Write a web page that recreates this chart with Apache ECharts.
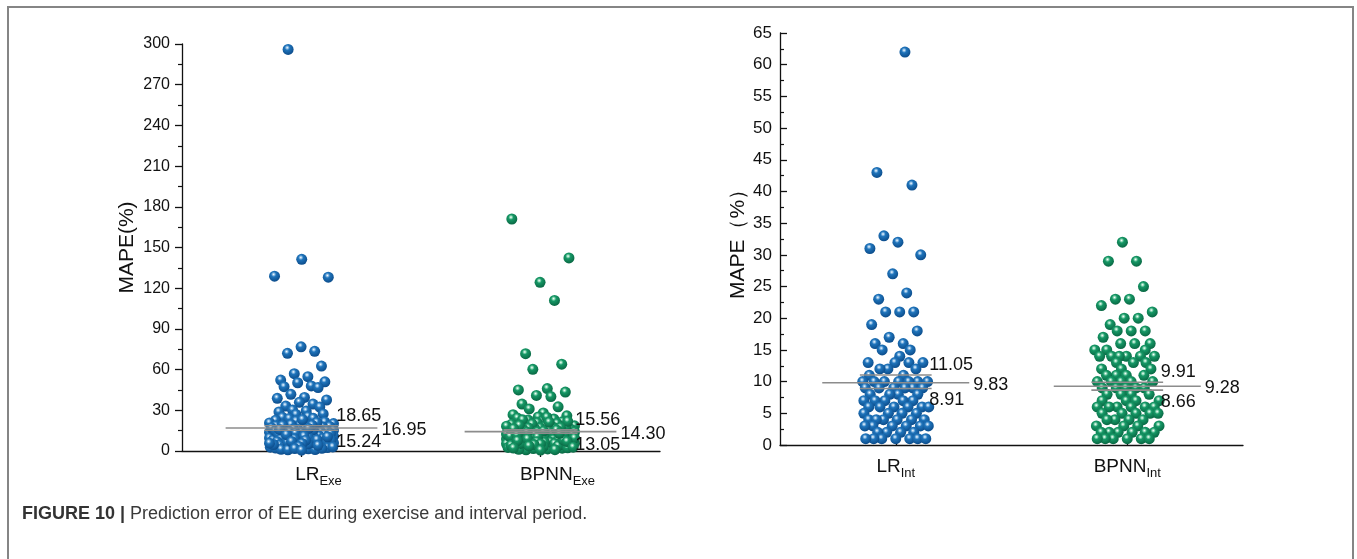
<!DOCTYPE html>
<html>
<head>
<meta charset="utf-8">
<script src="https://cdn.jsdelivr.net/npm/echarts@6/dist/echarts.min.js"></script>
<style>
  html, body { margin: 0; padding: 0; background: #ffffff; }
  #chart { width: 1357px; height: 559px; }
</style>
</head>
<body>
<div id="chart"></div>
<script>
// ---- Exercise period: MAPE (%) per sample ----
const exeNames = ['LR', 'BPNN'];
const exeSub = 'Exe';
const lrExe = [
  296.0, 141.3, 128.9, 128.1, 76.8, 73.5, 72.0, 62.6, 57.0, 54.8, 52.3, 51.0, 50.3, 48.0, 47.4, 46.8,
  41.8, 39.5, 38.8, 37.6, 35.9, 34.6, 33.1, 32.4, 30.2, 29.5, 28.8, 27.3, 26.9, 25.4, 24.8, 24.1, 23.9,
  22.6, 22.1, 21.4, 20.7, 20.2, 19.8, 19.3, 18.5, 18.1, 17.7, 17.2, 16.9, 16.4, 15.8, 15.3, 15.0, 14.6,
  14.1, 13.8, 13.5, 13.0, 12.6, 12.2, 11.9, 11.4, 11.1, 10.8, 10.3, 9.9, 9.6, 9.2, 8.8, 8.5, 8.0, 7.6,
  7.1, 6.7, 6.3, 5.9, 5.4, 5.0, 4.6, 4.1, 3.7, 3.2, 2.8, 2.2, 1.6, 1.1,
  23.2, 21.0, 19.5, 18.8, 17.0, 16.2, 15.5, 14.9, 14.3, 13.6, 12.9, 12.3, 11.6, 10.9, 10.1, 9.4, 8.7,
  8.1, 7.4, 6.9, 6.0, 5.2, 4.4, 3.5, 2.5, 1.3,
  19.0, 16.6, 13.2, 11.0, 9.0, 7.8, 6.5, 5.6, 4.8, 3.0, 2.0, 0.9,
  15.9, 12.0, 10.5, 8.3, 7.0, 5.8, 4.2, 3.4, 1.8, 0.6
];
const bpnnExe = [
  171.0, 142.3, 124.3, 111.0, 71.7, 64.0, 60.2, 46.0, 45.0, 43.4, 41.0, 40.1, 34.6, 32.6, 31.0, 28.0,
  26.8, 25.9, 25.1, 24.3, 23.6, 22.8, 22.1, 21.5, 20.9, 20.3, 19.7, 19.2, 18.6, 18.0, 17.5, 17.1, 16.6,
  16.2, 15.7, 15.3, 14.9, 14.4, 14.0, 13.6, 13.1, 12.7, 12.3, 11.8, 11.4, 11.0, 10.6, 10.1, 9.7, 9.3,
  8.8, 8.4, 8.0, 7.5, 7.1, 6.7, 6.2, 5.8, 5.3, 4.9, 4.4, 4.0, 3.5, 3.0, 2.6, 2.1, 1.5, 0.9,
  24.9, 23.0, 21.2, 19.9, 18.3, 17.8, 16.9, 15.9, 15.0, 14.2, 13.4, 12.9, 12.0, 11.2, 10.4, 9.9, 9.0,
  8.6, 7.8, 7.3, 6.5, 6.0, 5.5, 5.0, 4.6, 3.8, 3.2, 2.4, 1.8, 1.2,
  21.9, 18.9, 16.4, 14.6, 13.8, 12.5, 11.6, 10.8, 9.5, 8.2, 7.0, 6.4, 5.6, 4.2, 3.4, 2.8, 1.0,
  17.3, 15.5, 13.0, 11.7, 10.2, 8.9, 7.6, 6.9, 5.2, 4.7, 3.7, 2.2, 0.7
];
const exeMean = [16.95, 14.30];
const exeUpper = [18.65, 15.56];
const exeLower = [15.24, 13.05];
const exeAxis = { min: 0, max: 300, step: 30 };

// ---- Interval period: MAPE (%) per sample ----
const intNames = ['LR', 'BPNN'];
const intSub = 'Int';
const lrInt = [
  62, 43, 41, 33, 32, 31, 30, 27, 24, 23, 21, 21, 21, 19, 18, 17, 16, 16, 15, 15, 14, 13, 13, 13, 13,
  12, 12, 12, 11, 11, 10, 10, 10, 10, 10, 10, 10, 9, 9, 9, 9, 9, 9, 8, 8, 8, 8, 7, 7, 7, 7, 7,
  6, 6, 6, 6, 6, 6, 5, 5, 5, 5, 4, 4, 4, 4, 4, 4, 3, 3, 3, 3, 3, 3, 2, 2, 2, 2, 1, 1, 1, 1, 1, 1, 1
];
const bpnnInt = [
  32, 29, 29, 25, 23, 23, 22, 21, 20, 20, 19, 18, 18, 18, 17, 16, 16, 16, 15, 15, 15,
  14, 14, 14, 14, 14, 14, 13, 13, 13, 12, 12, 12, 11, 11, 11, 11, 10, 10, 10, 10, 10,
  9, 9, 9, 9, 9, 8, 8, 8, 8, 7, 7, 7, 7, 6, 6, 6, 6, 6, 6, 5, 5, 5, 5, 5,
  4, 4, 4, 4, 3, 3, 3, 3, 2, 2, 2, 2, 2, 2, 1, 1, 1, 1, 1, 1
];
const intMean = [9.83, 9.28];
const intUpper = [11.05, 9.91];
const intLower = [8.91, 8.66];
const intAxis = { min: 0, max: 65, step: 5 };

// ---- layout ----
const FONT = '"Liberation Sans", Arial, sans-serif';
const gridExe = { left: 182, top: 44, width: 478, height: 407 };
const gridInt = { left: 780, top: 33, width: 463, height: 412 };
const X_MAX = 4;              // groups sit at x = 1 and x = 3
const LONG_HALF = 0.635;      // half-length of the centre line (x units)
const SHORT_HALF = 0.31;      // half-length of the upper / lower lines
const LABEL_SHIFT = 0.29;     // start of the upper / lower value labels

// van der Corput sequence in base 2, used to spread the preferred side offsets
function vdc(n) {
  let v = 0, d = 0.5;
  while (n > 0) { if (n & 1) v += d; n >>= 1; d /= 2; }
  return v;
}

// Deterministic swarm layout (pixels): every point, taken in value order,
// gets a preferred sideways slot and is then moved to the nearest slot whose
// centre keeps at least `gap` from the points already placed.
function swarmOffsets(values, pxPerY, gap, maxHalf) {
  const order = values.map((v, i) => i).sort((a, b) => values[a] - values[b]);
  const placed = [];
  const out = new Array(values.length);
  order.forEach((i, rank) => {
    const y = values[i] * pxPerY;
    const pref = maxHalf * 0.85 * (2 * vdc(rank + 1) - 1);
    const near = placed.filter(p => Math.abs(p.y - y) < gap * 2);
    const cands = [pref, 0];
    for (const p of near) {
      const dy = p.y - y;
      if (Math.abs(dy) < gap) {
        const dx = Math.sqrt(gap * gap - dy * dy);
        cands.push(p.x + dx + 1e-6, p.x - dx - 1e-6);
      }
    }
    const ok = cands.filter(c => Math.abs(c) <= maxHalf)
      .sort((a, b) => Math.abs(a - pref) - Math.abs(b - pref));
    let best = null;
    for (const c of ok) {
      if (near.every(p => (p.x - c) ** 2 + (p.y - y) ** 2 >= gap * gap - 1e-3)) { best = c; break; }
    }
    if (best === null) {
      let score = -1;
      for (let c = -maxHalf; c <= maxHalf; c += 0.5) {
        let m = Infinity;
        for (const p of near) m = Math.min(m, Math.hypot(p.x - c, p.y - y));
        if (m > score) { score = m; best = c; }
      }
    }
    placed.push({ x: best, y });
    out[i] = best;
  });
  return out;
}

function ball(light, mid, dark) {
  return {
    type: 'radial', x: 0.42, y: 0.34, r: 0.64,
    colorStops: [
      { offset: 0, color: '#ffffff' },
      { offset: 0.13, color: light },
      { offset: 0.36, color: mid },
      { offset: 1, color: dark }
    ]
  };
}
const BLUE = ball('#a4cbec', '#1f74bb', '#0d4e8d');
const GREEN = ball('#a6e3c6', '#169866', '#0a6a45');

function pointSeries(values, center, grid, yMax, gap, maxHalf, color, axisIdx) {
  const pxPerX = grid.width / X_MAX;
  const pxPerY = grid.height / yMax;
  const off = swarmOffsets(values, pxPerY, gap, maxHalf);
  return {
    type: 'scatter',
    xAxisIndex: axisIdx, yAxisIndex: axisIdx,
    symbol: 'circle', symbolSize: 11,
    itemStyle: { color: color, opacity: 1 },
    z: 2,
    data: values.map((v, i) => [center + off[i] / pxPerX, v])
  };
}

function summarySeries(mean, upper, lower, axisIdx) {
  return {
    type: 'custom',
    xAxisIndex: axisIdx, yAxisIndex: axisIdx,
    z: 5, silent: true,
    data: mean.map((m, i) => [2 * i + 1, m, upper[i], lower[i]]),
    renderItem(params, api) {
      const c = api.value(0);
      const m = api.value(1), u = api.value(2), l = api.value(3);
      const seg = (v, h) => {
        const a = api.coord([c - h, v]), b = api.coord([c + h, v]);
        return { type: 'line', shape: { x1: a[0], y1: a[1], x2: b[0], y2: b[1] },
                 style: { stroke: '#8c8c8c', lineWidth: 1.6 } };
      };
      const txt = (v, x, y, va) => ({
        type: 'text',
        style: { text: v.toFixed(2), x: x, y: y, align: 'left', verticalAlign: va,
                 font: '18px ' + FONT, fill: '#111111' }
      });
      const pm = api.coord([c + LONG_HALF, m]);
      const pu = api.coord([c + LABEL_SHIFT, u]);
      const pl = api.coord([c + LABEL_SHIFT, l]);
      return {
        type: 'group',
        children: [
          seg(l, SHORT_HALF), seg(u, SHORT_HALF), seg(m, LONG_HALF),
          txt(u, pu[0], pu[1] - 1, 'bottom'),
          txt(m, pm[0] + 4, pm[1] + 2, 'middle'),
          txt(l, pl[0], pl[1] + 3, 'top')
        ]
      };
    }
  };
}

function xAxisFor(names, sub, gridIndex, tickInside, margin, padLeft) {
  return {
    type: 'value', gridIndex: gridIndex, min: 0, max: X_MAX,
    splitLine: { show: false },
    axisLine: { show: true, onZero: false, lineStyle: { color: '#111', width: 1.3 } },
    axisTick: { show: true, inside: tickInside, length: 6, customValues: [1, 3],
                lineStyle: { color: '#111', width: 1.3 } },
    axisLabel: {
      customValues: [1, 3], margin: margin, color: '#111',
      padding: [0, 0, 0, padLeft],
      formatter: v => '{m|' + names[(v - 1) / 2] + '}{s|' + sub + '}',
      rich: {
        m: { fontSize: 19, fontFamily: FONT, color: '#111', lineHeight: 22, verticalAlign: 'top' },
        s: { fontSize: 13, fontFamily: FONT, color: '#111', lineHeight: 14, verticalAlign: 'top',
             padding: [10, 0, 0, 0] }
      }
    }
  };
}

function yAxisFor(ax, name, gridIndex, tickInside, margin, nameGap, labelSize) {
  return {
    type: 'value', gridIndex: gridIndex, min: ax.min, max: ax.max, interval: ax.step,
    name: name, nameLocation: 'middle', nameGap: nameGap,
    nameTextStyle: { fontSize: 21, fontFamily: FONT, color: '#111' },
    splitLine: { show: false },
    axisLine: { show: true, lineStyle: { color: '#111', width: 1.3 } },
    axisTick: { show: true, inside: tickInside, length: 7, lineStyle: { color: '#111', width: 1.3 } },
    minorTick: { show: true, splitNumber: 2, length: 4, lineStyle: { color: '#111', width: 1.2 } },
    axisLabel: { fontSize: labelSize, fontFamily: FONT, color: '#111', margin: margin }
  };
}

const chart = echarts.init(document.getElementById('chart'), null, { renderer: 'canvas' });
chart.setOption({
  animation: false,
  backgroundColor: '#ffffff',
  title: {
    left: 17, top: 500,
    text: '{b|FIGURE 10 |} Prediction error of EE during exercise and interval period.',
    textStyle: {
      fontSize: 18, fontWeight: 'normal', fontFamily: FONT, color: '#3a3a3a',
      rich: { b: { fontSize: 18, fontWeight: 'bold', fontFamily: FONT, color: '#333' } }
    }
  },
  graphic: [{
    type: 'polyline', silent: true,
    shape: { points: [[8, 560], [8, 7], [1353, 7], [1353, 560]] },
    style: { stroke: '#858585', lineWidth: 2, fill: 'none' }
  }],
  grid: [
    Object.assign({ containLabel: false }, gridExe),
    Object.assign({ containLabel: false }, gridInt)
  ],
  xAxis: [
    xAxisFor(exeNames, exeSub, 0, false, 14, 34),
    xAxisFor(intNames, intSub, 1, true, 12, 0)
  ],
  yAxis: [
    yAxisFor(exeAxis, 'MAPE(%)', 0, false, 12, 44, 16),
    yAxisFor(intAxis, 'MAPE（%）', 1, true, 8, 30, 17)
  ],
  series: [
    pointSeries(lrExe, 1, gridExe, exeAxis.max, 5.5, 32, BLUE, 0),
    pointSeries(bpnnExe, 3, gridExe, exeAxis.max, 5.5, 34, GREEN, 0),
    summarySeries(exeMean, exeUpper, exeLower, 0),
    pointSeries(lrInt, 1, gridInt, intAxis.max, 8, 33, BLUE, 1),
    pointSeries(bpnnInt, 3, gridInt, intAxis.max, 8, 33, GREEN, 1),
    summarySeries(intMean, intUpper, intLower, 1)
  ]
});
</script>
</body>
</html>
